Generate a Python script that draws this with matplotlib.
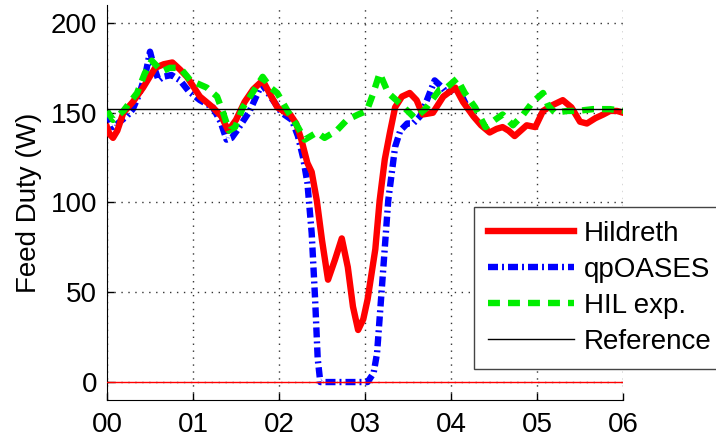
import matplotlib
matplotlib.use("Agg")
import matplotlib.pyplot as plt

plt.rcParams['font.family'] = ['Liberation Sans', 'DejaVu Sans']
plt.rcParams['lines.scale_dashes'] = False

# Hildreth
hil_x = [0, 0.03, 0.07, 0.12, 0.19, 0.3, 0.42, 0.56, 0.66, 0.76, 0.85, 0.93, 1.08, 1.23, 1.33, 1.41,
         1.5, 1.6, 1.7, 1.81, 1.9, 1.98, 2.08, 2.13, 2.2, 2.26, 2.33, 2.38, 2.44, 2.5, 2.57, 2.65,
         2.73, 2.8, 2.86, 2.92, 2.98, 3.03, 3.12, 3.17, 3.23, 3.29, 3.35, 3.43, 3.52, 3.6, 3.67,
         3.79, 3.91, 4.05, 4.14, 4.26, 4.35, 4.45, 4.53, 4.6, 4.67, 4.74, 4.81, 4.88, 4.98, 5.07,
         5.17, 5.3, 5.4, 5.5, 5.58, 5.68, 5.77, 5.85, 5.93, 6.0]
hil_y = [142, 138, 136, 140, 150, 156, 164, 175, 177, 178, 174, 170, 159, 153, 148, 140,
         146, 156, 163, 168, 160, 153, 150, 149, 144, 135, 122, 117, 101, 79, 57, 68,
         80, 64, 42, 29, 35, 46, 74, 101, 124, 139, 153, 159, 161, 157, 149,
         150, 159, 164, 156, 148, 143, 139, 141, 142, 140, 137, 140, 143, 142, 151,
         154, 157, 153, 145, 144, 147, 149, 151, 151, 150]

# qpOASES
qp_x = [0, 0.07, 0.15, 0.23, 0.3, 0.38, 0.45, 0.5, 0.55, 0.6, 0.65, 0.75, 0.85, 0.95, 1.08, 1.23,
        1.32, 1.39, 1.45, 1.51, 1.66, 1.8, 1.93, 2.03, 2.15, 2.22, 2.28, 2.33, 2.38, 2.42, 2.45,
        2.48, 3.03, 3.1, 3.14, 3.2, 3.27, 3.35, 3.41, 3.49, 3.56, 3.64, 3.72, 3.81, 3.9, 3.95,
        4.07, 4.12, 4.17]
qp_y = [150, 142, 145, 148, 152, 161, 172, 184, 175, 168, 170, 171, 168, 162, 157, 153,
        145, 135, 136, 140, 151, 166, 157, 150, 146, 137, 125, 111, 83, 46, 13,
        0, 0, 5, 16, 55, 101, 131, 140, 144, 144, 148, 157, 168, 164, 161,
        164, 160, 155]

# HIL exp.
exp_x = [0, 0.07, 0.19, 0.35, 0.44, 0.52, 0.58, 0.64, 0.73, 0.85, 0.97, 1.16, 1.28, 1.35, 1.42,
         1.49, 1.58, 1.69, 1.81, 1.9, 1.98, 2.1, 2.22, 2.3, 2.44, 2.53, 2.67, 2.79, 2.92, 3.02,
         3.09, 3.17, 3.27, 3.41, 3.58, 3.7, 3.87, 3.95, 4.07, 4.16, 4.28, 4.4, 4.51, 4.6, 4.72,
         4.84, 4.95, 5.07, 5.13, 5.21, 5.35, 5.47, 5.65, 5.85, 6.0]
exp_y = [151, 146, 151, 161, 172, 179, 176, 173, 175, 175, 168, 164, 159, 150, 140,
         142, 153, 161, 170, 164, 161, 151, 142, 135, 139, 136, 140, 146, 149, 151,
         160, 172, 161, 155, 147, 152, 163, 164, 169, 161, 153, 142, 146, 149, 143,
         149, 156, 161, 154, 150, 151, 151, 152, 152, 151]

ref_value = 152
limit_value = 0
x_ticks = [0, 1, 2, 3, 4, 5, 6]
x_ticklabels = ['00', '01', '02', '03', '04', '05', '06']
y_ticks = [0, 50, 100, 150, 200]

FS = 20

fig = plt.figure(figsize=(7.16, 4.38), dpi=100)
ax = fig.add_axes([107/716, 1-400/438, 516/716, 395/438])

ax.plot(qp_x, qp_y, color='#0000ff', lw=4.6, linestyle=(0, (7.2, 2.9, 1.4, 2.9)),
        label='qpOASES', zorder=3)
ax.plot(hil_x, hil_y, color='#ff0000', lw=4.6, label='Hildreth', zorder=4,
        solid_joinstyle='round')
ax.plot(exp_x, exp_y, color='#00ee00', lw=4.6, linestyle=(0, (8.6, 5.8)),
        label='HIL exp.', zorder=5)
ax.axhline(ref_value, color='black', lw=1.0, label='Reference', zorder=6)
ax.axhline(limit_value, color='#ff0000', lw=1.0, zorder=6)

ax.set_xlim(0, 6)
ax.set_ylim(-10, 210)
ax.set_xticks(x_ticks)
ax.set_xticklabels(x_ticklabels)
ax.set_yticks(y_ticks)
ax.tick_params(direction='in', length=5, width=1, labelsize=FS)
ax.tick_params(axis='x', pad=9)
ax.tick_params(axis='y', pad=7)
ax.spines['top'].set_visible(False)
ax.spines['right'].set_visible(False)
ax.grid(True, color='#333333', linestyle=(0, (1, 4)), lw=1.0)
ax.set_ylabel('Feed Duty (W)', fontsize=FS, labelpad=6)

h, l = ax.get_legend_handles_labels()
order = [1, 0, 2, 3]
leg = ax.legend([h[i] for i in order], [l[i] for i in order],
                loc='upper left', bbox_to_anchor=(474/716, 1-207/438),
                bbox_transform=fig.transFigure, borderaxespad=0,
                fontsize=FS, handlelength=3.1, handletextpad=0.35,
                labelspacing=0.36, borderpad=0.5, fancybox=False,
                framealpha=1, edgecolor='#444444')
leg.get_frame().set_linewidth(1.0)

fig.savefig('out.png', dpi=100)
